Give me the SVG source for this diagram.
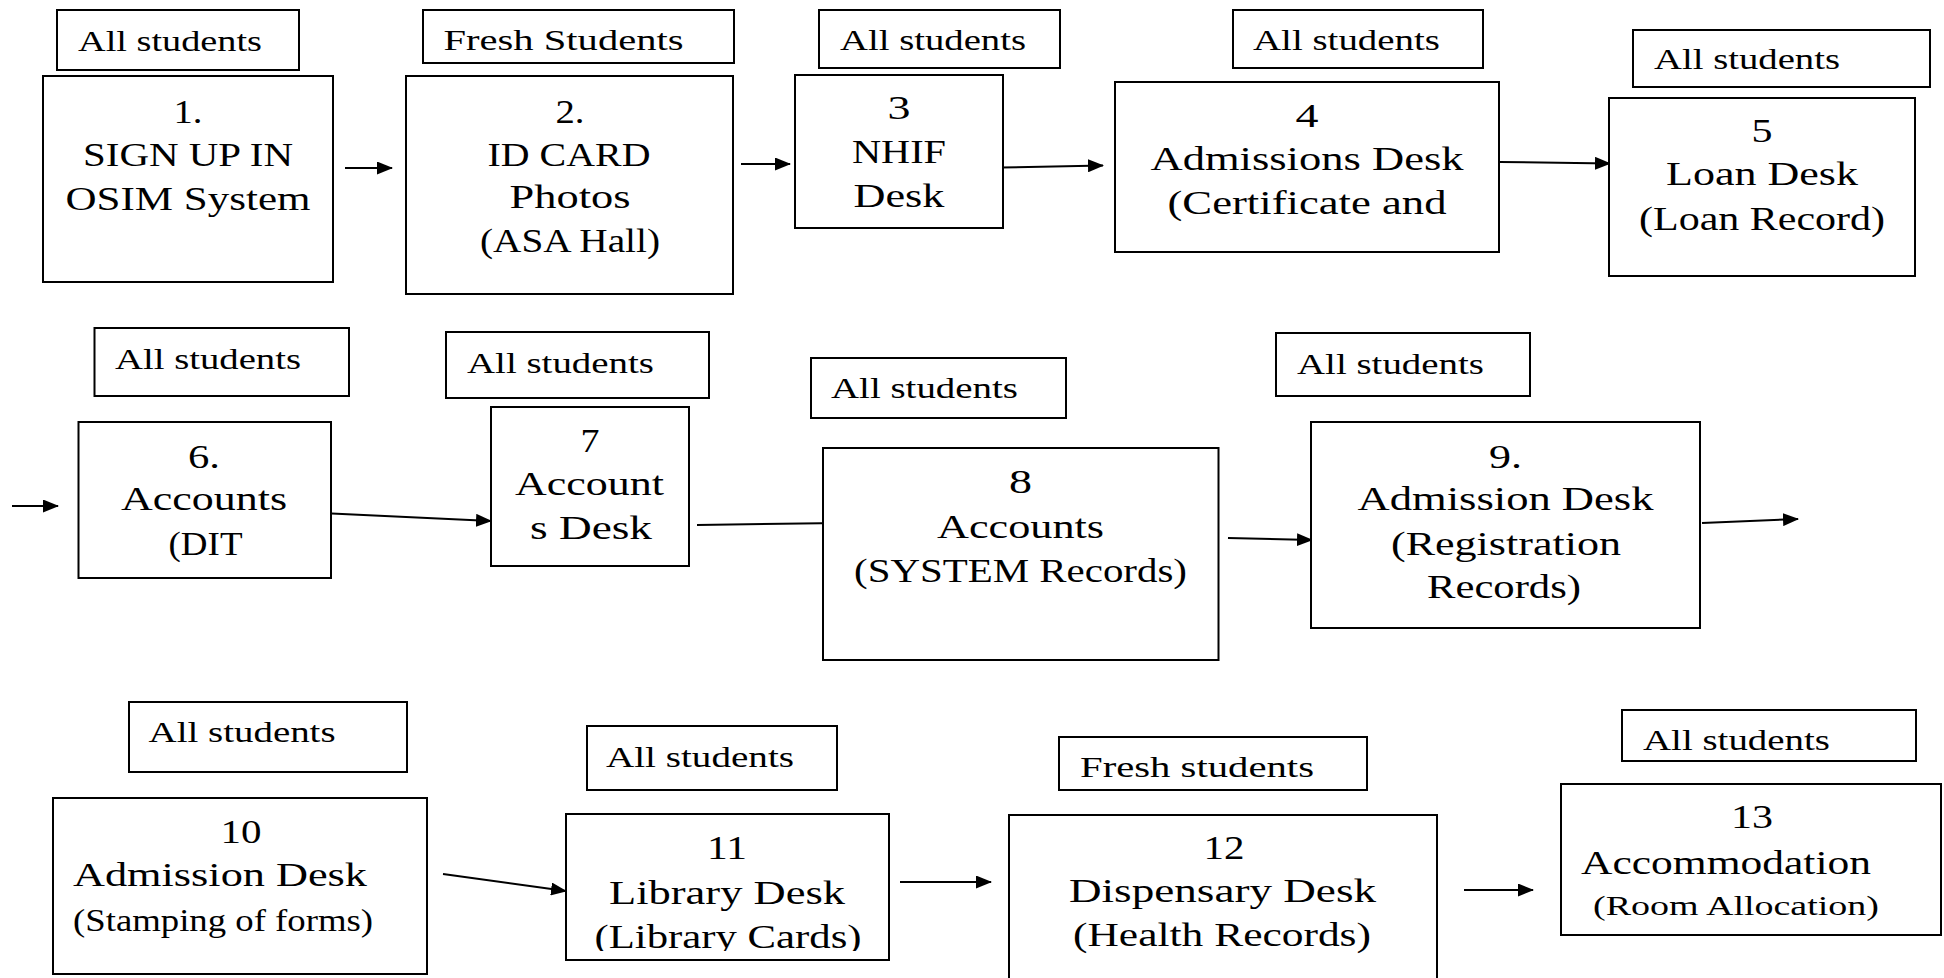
<svg xmlns="http://www.w3.org/2000/svg" width="1944" height="978" viewBox="0 0 1944 978">
<style>
  rect.b { fill: #fff; stroke: #000; stroke-width: 2; }
  text { font-family: "Liberation Serif", "Times New Roman", serif; fill: #000; }
  text.t { font-size: 34px; text-anchor: middle; }
  text.l { font-size: 29px; }
  text.s { font-size: 34px; }
  line.c { stroke: #000; stroke-width: 2; fill: none; }
</style>
<defs>
  <marker id="ah" markerUnits="userSpaceOnUse" markerWidth="16" markerHeight="13" refX="15" refY="6.5" orient="auto">
    <path d="M0,0 L16,6.5 L0,13 z" fill="#000"/>
  </marker>
  <clipPath id="clip11"><rect x="566" y="814" width="323" height="137"/></clipPath>
</defs>
<rect width="1944" height="978" fill="#fff"/>

<g id="connectors">
  <line class="c" x1="345" y1="168" x2="392" y2="168" marker-end="url(#ah)"/>
  <line class="c" x1="741" y1="164" x2="790" y2="164" marker-end="url(#ah)"/>
  <line class="c" x1="1001" y1="167.5" x2="1103" y2="165.5" marker-end="url(#ah)"/>
  <line class="c" x1="1500" y1="162" x2="1610" y2="163.5" marker-end="url(#ah)"/>
  <line class="c" x1="12" y1="506" x2="58" y2="506" marker-end="url(#ah)"/>
  <line class="c" x1="321" y1="513" x2="491" y2="521" marker-end="url(#ah)"/>
  <line class="c" x1="697" y1="525" x2="841" y2="523" marker-end="url(#ah)"/>
  <line class="c" x1="1228" y1="538" x2="1312" y2="540" marker-end="url(#ah)"/>
  <line class="c" x1="1702" y1="523" x2="1798" y2="519" marker-end="url(#ah)"/>
  <line class="c" x1="443" y1="874" x2="566" y2="891" marker-end="url(#ah)"/>
  <line class="c" x1="900" y1="882" x2="991" y2="882" marker-end="url(#ah)"/>
  <line class="c" x1="1464" y1="890" x2="1533" y2="890" marker-end="url(#ah)"/>
</g>

<g id="label1"><rect class="b" x="57" y="10" width="242" height="60"/><text class="l" x="78" y="50.5" textLength="184" lengthAdjust="spacingAndGlyphs">All students</text></g>
<g id="node1"><rect class="b" x="43" y="76" width="290" height="206"/>
  <text class="t" x="188" y="123" textLength="29" lengthAdjust="spacingAndGlyphs">1.</text>
  <text class="t" x="188" y="165.5" textLength="210" lengthAdjust="spacingAndGlyphs">SIGN UP IN</text>
  <text class="t" x="188" y="210" textLength="245" lengthAdjust="spacingAndGlyphs">OSIM System</text>
</g>

<g id="label2"><rect class="b" x="423" y="10" width="311" height="53"/><text class="l" x="443.5" y="50" textLength="240" lengthAdjust="spacingAndGlyphs">Fresh Students</text></g>
<g id="node2"><rect class="b" x="406" y="76" width="327" height="218"/>
  <text class="t" x="570" y="123" textLength="29" lengthAdjust="spacingAndGlyphs">2.</text>
  <text class="t" x="569" y="166" textLength="163" lengthAdjust="spacingAndGlyphs">ID CARD</text>
  <text class="t" x="570" y="208" textLength="121" lengthAdjust="spacingAndGlyphs">Photos</text>
  <text class="t" x="570" y="252" textLength="180" lengthAdjust="spacingAndGlyphs">(ASA Hall)</text>
</g>

<g id="label3"><rect class="b" x="819" y="10" width="241" height="58"/><text class="l" x="840" y="50" textLength="186" lengthAdjust="spacingAndGlyphs">All students</text></g>
<g id="node3"><rect class="b" x="795" y="75" width="208" height="153"/>
  <text class="t" x="899" y="119" textLength="23" lengthAdjust="spacingAndGlyphs">3</text>
  <text class="t" x="899" y="163" textLength="94" lengthAdjust="spacingAndGlyphs">NHIF</text>
  <text class="t" x="899" y="207" textLength="91" lengthAdjust="spacingAndGlyphs">Desk</text>
</g>

<g id="label4"><rect class="b" x="1233" y="10" width="250" height="58"/><text class="l" x="1253" y="50" textLength="187" lengthAdjust="spacingAndGlyphs">All students</text></g>
<g id="node4"><rect class="b" x="1115" y="82" width="384" height="170"/>
  <text class="t" x="1307" y="127" textLength="23" lengthAdjust="spacingAndGlyphs">4</text>
  <text class="t" x="1307" y="170" textLength="313" lengthAdjust="spacingAndGlyphs">Admissions Desk</text>
  <text class="t" x="1307" y="214" textLength="279" lengthAdjust="spacingAndGlyphs">(Certificate and</text>
</g>

<g id="label5"><rect class="b" x="1633" y="30" width="297" height="57"/><text class="l" x="1654" y="69" textLength="186" lengthAdjust="spacingAndGlyphs">All students</text></g>
<g id="node5"><rect class="b" x="1609" y="98" width="306" height="178"/>
  <text class="t" x="1762" y="142" textLength="21" lengthAdjust="spacingAndGlyphs">5</text>
  <text class="t" x="1762" y="185" textLength="192" lengthAdjust="spacingAndGlyphs">Loan Desk</text>
  <text class="t" x="1762" y="230" textLength="246" lengthAdjust="spacingAndGlyphs">(Loan Record)</text>
</g>

<g id="label6"><rect class="b" x="94.5" y="328" width="254.5" height="68"/><text class="l" x="115" y="369" textLength="186" lengthAdjust="spacingAndGlyphs">All students</text></g>
<g id="node6"><rect class="b" x="78.5" y="422" width="252.5" height="156"/>
  <text class="t" x="204" y="468" textLength="32" lengthAdjust="spacingAndGlyphs">6.</text>
  <text class="t" x="204" y="510" textLength="166" lengthAdjust="spacingAndGlyphs">Accounts</text>
  <text class="t" x="205.5" y="555" textLength="74" lengthAdjust="spacingAndGlyphs">(DIT</text>
</g>

<g id="label7"><rect class="b" x="446" y="332" width="263" height="66"/><text class="l" x="467" y="373" textLength="187" lengthAdjust="spacingAndGlyphs">All students</text></g>
<g id="node7"><rect class="b" x="491" y="407" width="198" height="159"/>
  <text class="t" x="590" y="452" textLength="19" lengthAdjust="spacingAndGlyphs">7</text>
  <text class="t" x="589.5" y="495" textLength="149" lengthAdjust="spacingAndGlyphs">Account</text>
  <text class="t" x="591" y="539" textLength="122" lengthAdjust="spacingAndGlyphs">s Desk</text>
</g>

<g id="label8"><rect class="b" x="811" y="358" width="255" height="60"/><text class="l" x="831" y="398" textLength="187" lengthAdjust="spacingAndGlyphs">All students</text></g>
<g id="node8"><rect class="b" x="823" y="448" width="395.5" height="212"/>
  <text class="t" x="1020.5" y="493" textLength="23" lengthAdjust="spacingAndGlyphs">8</text>
  <text class="t" x="1020.5" y="538" textLength="167" lengthAdjust="spacingAndGlyphs">Accounts</text>
  <text class="t" x="1020.5" y="582" textLength="333" lengthAdjust="spacingAndGlyphs">(SYSTEM Records)</text>
</g>

<g id="label9"><rect class="b" x="1276" y="333" width="254" height="63"/><text class="l" x="1297" y="374" textLength="187" lengthAdjust="spacingAndGlyphs">All students</text></g>
<g id="node9"><rect class="b" x="1311" y="422" width="389" height="206"/>
  <text class="t" x="1505.5" y="468" textLength="33" lengthAdjust="spacingAndGlyphs">9.</text>
  <text class="t" x="1505.5" y="510" textLength="296" lengthAdjust="spacingAndGlyphs">Admission Desk</text>
  <text class="t" x="1506" y="555" textLength="230" lengthAdjust="spacingAndGlyphs">(Registration</text>
  <text class="t" x="1504" y="598" textLength="154" lengthAdjust="spacingAndGlyphs">Records)</text>
</g>

<g id="label10"><rect class="b" x="129" y="702" width="278" height="70"/><text class="l" x="148.6" y="742" textLength="187" lengthAdjust="spacingAndGlyphs">All students</text></g>
<g id="node10"><rect class="b" x="53" y="798" width="374" height="176"/>
  <text class="t" x="241" y="843" textLength="41" lengthAdjust="spacingAndGlyphs">10</text>
  <text class="s" x="73" y="886" textLength="294" lengthAdjust="spacingAndGlyphs">Admission Desk</text>
  <text class="s" x="73" y="931" style="font-size:32px" textLength="300" lengthAdjust="spacingAndGlyphs">(Stamping of forms)</text>
</g>

<g id="label11"><rect class="b" x="587" y="726" width="250" height="64"/><text class="l" x="606" y="767" textLength="188" lengthAdjust="spacingAndGlyphs">All students</text></g>
<g id="node11"><rect class="b" x="566" y="814" width="323" height="146"/>
  <text class="t" x="727" y="859" textLength="40" lengthAdjust="spacingAndGlyphs">11</text>
  <text class="t" x="727" y="904" textLength="236" lengthAdjust="spacingAndGlyphs">Library Desk</text>
  <g clip-path="url(#clip11)"><text class="t" x="728" y="948" textLength="267" lengthAdjust="spacingAndGlyphs">(Library Cards)</text></g>
</g>

<g id="label12"><rect class="b" x="1059" y="737" width="308" height="53"/><text class="l" x="1080" y="777" textLength="234" lengthAdjust="spacingAndGlyphs">Fresh students</text></g>
<g id="node12"><rect class="b" x="1009" y="815" width="428" height="175"/>
  <text class="t" x="1224" y="859" textLength="41" lengthAdjust="spacingAndGlyphs">12</text>
  <text class="t" x="1222.5" y="902" textLength="307" lengthAdjust="spacingAndGlyphs">Dispensary Desk</text>
  <text class="t" x="1222" y="946" textLength="298" lengthAdjust="spacingAndGlyphs">(Health Records)</text>
</g>

<g id="label13"><rect class="b" x="1622" y="710" width="294" height="51"/><text class="l" x="1643" y="750" textLength="187" lengthAdjust="spacingAndGlyphs">All students</text></g>
<g id="node13"><rect class="b" x="1561" y="784" width="380" height="151"/>
  <text class="t" x="1752" y="828" textLength="42" lengthAdjust="spacingAndGlyphs">13</text>
  <text class="s" x="1581" y="874" textLength="290" lengthAdjust="spacingAndGlyphs">Accommodation</text>
  <text class="s" x="1593" y="915" style="font-size:28px" textLength="286" lengthAdjust="spacingAndGlyphs">(Room Allocation)</text>
</g>
</svg>
